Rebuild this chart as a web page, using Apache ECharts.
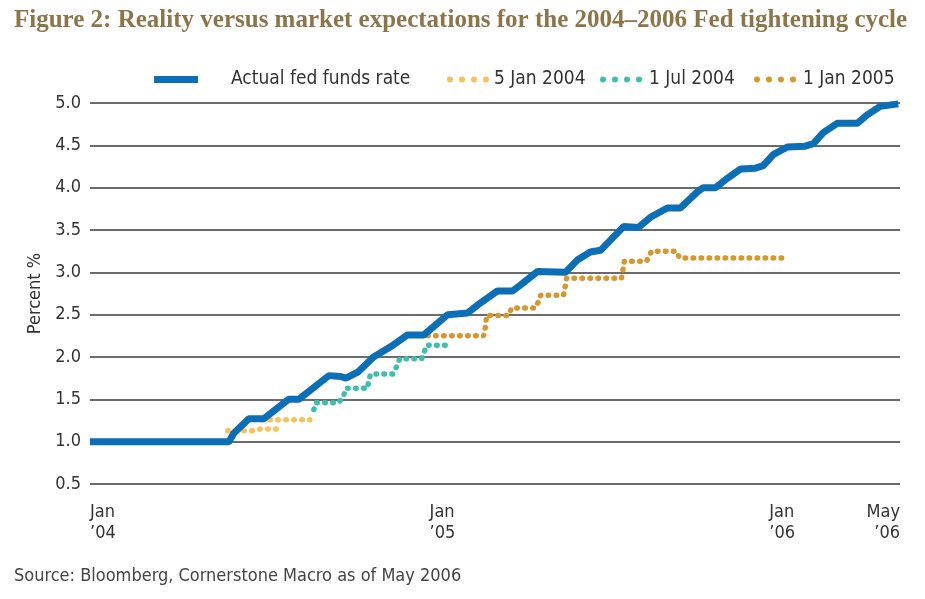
<!DOCTYPE html>
<html lang="en">
<head>
    <meta charset="UTF-8">
    <title>Fed tightening cycle</title>
    <script src="https://cdn.jsdelivr.net/npm/echarts@6/dist/echarts.min.js"></script>
    <style>
        html, body { margin: 0; padding: 0; background: #fff; }
        #main { width: 925px; height: 599px; }
    </style>
</head>
<body>
<div id="main"></div>
<script>
// x values are months counted from 1 Jan 2004
var xTicks = [0, 12, 24, 28.62];
var xTickLabels = ['Jan\n\u201904', 'Jan\n\u201905', 'Jan\n\u201906', 'May\n\u201906'];
var yTicks = [0.5, 1.0, 1.5, 2.0, 2.5, 3.0, 3.5, 4.0, 4.5, 5.0];

var actualX = [0, 4.91, 5.08, 5.61, 6.14, 7.02, 7.38, 8.44, 8.86, 9.04, 9.46, 10.02, 10.62, 11.22, 11.79,
    12.64, 13.34, 13.80, 14.40, 14.93, 15.21, 15.81, 16.80, 17.23, 17.68, 18.04, 18.39, 18.85, 19.38,
    19.80, 20.40, 20.86, 21.46, 21.67, 22.10, 22.52, 22.98, 23.51, 23.79, 24.14, 24.64, 25.27, 25.56,
    25.91, 26.40, 27.11, 27.46, 27.92, 28.56];
var actualRate = [1.00, 1.00, 1.10, 1.27, 1.27, 1.50, 1.50, 1.78, 1.77, 1.75, 1.82, 2.00, 2.12, 2.26, 2.26,
    2.50, 2.52, 2.64, 2.78, 2.78, 2.85, 3.01, 3.00, 3.15, 3.24, 3.26, 3.38, 3.54, 3.53,
    3.65, 3.76, 3.76, 3.95, 4.00, 4.00, 4.11, 4.22, 4.23, 4.26, 4.39, 4.48, 4.49, 4.52,
    4.65, 4.76, 4.76, 4.86, 4.96, 4.99];

// null splits the yellow path into its two pieces
var jan04X = [4.87, 5.75, 6.04, 6.64, null, 6.07, 7.77];
var jan04Rate = [1.13, 1.13, 1.15, 1.15, null, 1.26, 1.26];

var jul04X = [7.91, 7.98, 8.79, 8.97, 9.04, 9.81, 9.85, 9.92, 10.70, 10.87, 10.94, 11.72, 11.82, 11.90, 12.67];
var jul04Rate = [1.38, 1.46, 1.46, 1.55, 1.63, 1.63, 1.73, 1.80, 1.80, 1.91, 1.98, 1.98, 2.07, 2.14, 2.14];

var jan05X = [11.93, 13.91, 13.98, 14.01, 14.79, 14.90, 15.74, 15.88, 15.92, 16.73, 16.80, 16.84, 18.78,
    18.85, 18.88, 19.66, 19.84, 20.72, 20.83, 24.50];
var jan05Rate = [2.25, 2.25, 2.37, 2.49, 2.49, 2.58, 2.58, 2.68, 2.73, 2.73, 2.85, 2.93, 2.93,
    3.07, 3.13, 3.13, 3.25, 3.25, 3.17, 3.17];

function pairs(xs, ys) {
    var out = [];
    for (var i = 0; i < xs.length; i++) {
        out.push(xs[i] === null ? '-' : [xs[i], ys[i]]);
    }
    return out;
}

var sans = "'DejaVu Sans Condensed', 'Liberation Sans Narrow', 'Noto Sans', sans-serif";
var ink = '#333';
// four dots for the legend of the dotted series
var fourDots = 'path://M0,3a3,3 0 1,0 6,0a3,3 0 1,0 -6,0M12,3a3,3 0 1,0 6,0a3,3 0 1,0 -6,0' +
    'M24,3a3,3 0 1,0 6,0a3,3 0 1,0 -6,0M36,3a3,3 0 1,0 6,0a3,3 0 1,0 -6,0';

function dotted(name, color, xs, ys) {
    return {
        name: name,
        type: 'line',
        data: pairs(xs, ys),
        symbol: 'none',
        connectNulls: false,
        z: 2,
        lineStyle: { color: color, width: 5.5, type: [0.5, 7.5], cap: 'round' },
        itemStyle: { color: color }
    };
}

function oneLegend(name, icon, left, width, height, textPad) {
    return {
        data: [{ name: name, icon: icon }],
        left: left,
        top: 70,
        padding: 0,
        itemWidth: width,
        itemHeight: height,
        textStyle: { fontFamily: sans, fontSize: 19, color: ink, padding: [0, 0, 0, textPad] }
    };
}

var myChart = echarts.init(document.getElementById('main'));

var option = {
    animation: false,
    title: [
        {
            text: 'Figure 2: Reality versus market expectations for the 2004\u20132006 Fed tightening cycle',
            left: 14, top: 8, padding: 0,
            textStyle: { fontFamily: "'Liberation Serif', 'DejaVu Serif', serif", fontWeight: 'bold', fontSize: 25, color: '#8c7549' }
        },
        {
            text: 'Source: Bloomberg, Cornerstone Macro as of May 2006',
            left: 14, top: 567, padding: 0,
            textStyle: { fontFamily: sans, fontWeight: 'normal', fontSize: 18, color: '#444' }
        }
    ],
    legend: [
        oneLegend('Actual fed funds rate', 'rect', 154, 44, 7, 28),
        oneLegend('5 Jan 2004', fourDots, 447, 42, 6, 0),
        oneLegend('1 Jul 2004', fourDots, 600, 42, 6, 2),
        oneLegend('1 Jan 2005', fourDots, 754, 42, 6, 2)
    ],
    grid: { left: 90, right: 25, top: 103, bottom: 115 },
    xAxis: {
        type: 'value',
        min: 0,
        max: xTicks[xTicks.length - 1],
        axisLine: { show: false },
        axisTick: { show: false },
        splitLine: { show: false },
        axisLabel: {
            customValues: xTicks,
            formatter: function (v) {
                var i = xTicks.indexOf(v);
                return i >= 0 ? xTickLabels[i] : '';
            },
            align: 'left',
            alignMaxLabel: 'right',
            margin: 18,
            lineHeight: 21,
            fontFamily: sans,
            fontSize: 18,
            color: ink
        }
    },
    yAxis: {
        type: 'value',
        min: yTicks[0],
        max: yTicks[yTicks.length - 1],
        interval: 0.5,
        name: 'Percent %',
        nameLocation: 'middle',
        nameGap: 46,
        nameTextStyle: { fontFamily: sans, fontSize: 18, color: ink },
        axisLine: { show: false },
        axisTick: { show: false },
        axisLabel: {
            formatter: function (v) { return v.toFixed(1); },
            margin: 9,
            fontFamily: sans,
            fontSize: 18,
            color: ink
        },
        splitLine: { lineStyle: { color: '#3a3a3a', width: 1.5 } }
    },
    series: [
        {
            name: 'Actual fed funds rate',
            type: 'line',
            data: pairs(actualX, actualRate),
            symbol: 'none',
            z: 5,
            lineStyle: { color: '#0b6fb7', width: 7 },
            itemStyle: { color: '#0b6fb7' }
        },
        dotted('5 Jan 2004', '#f8c15c', jan04X, jan04Rate),
        dotted('1 Jul 2004', '#3dbfae', jul04X, jul04Rate),
        dotted('1 Jan 2005', '#d6972f', jan05X, jan05Rate)
    ]
};
myChart.setOption(option);
</script>
</body>
</html>
